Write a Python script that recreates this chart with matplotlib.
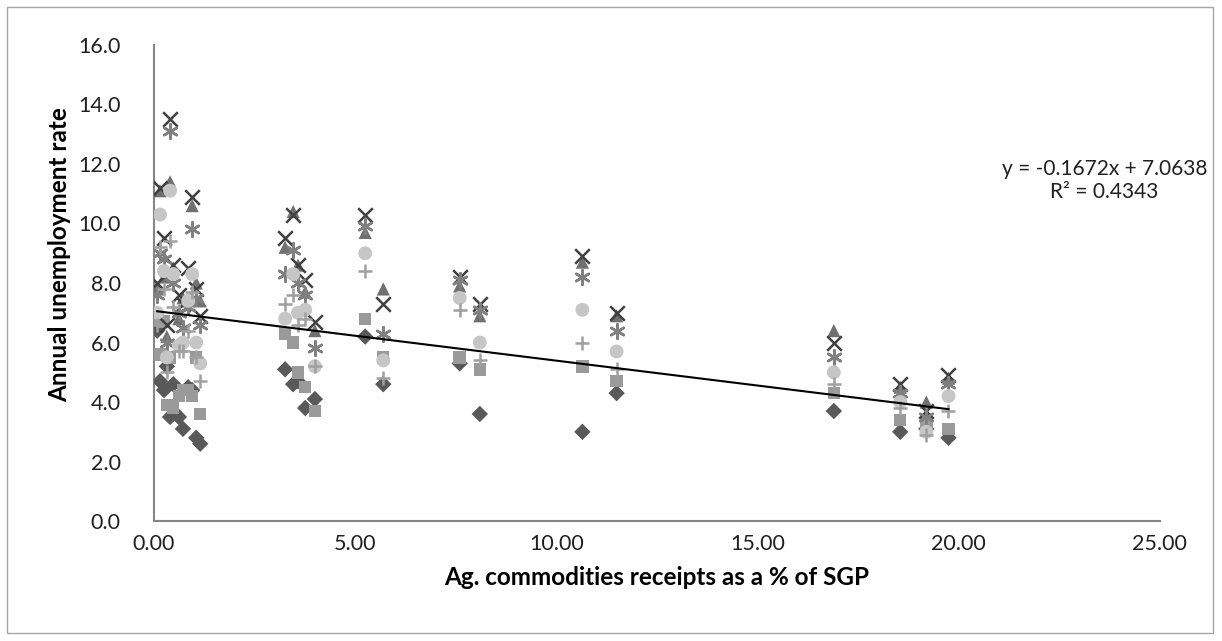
import numpy as np
import matplotlib.pyplot as plt
from matplotlib.patches import Rectangle

# Ag. commodities receipts as a % of SGP, one value per state
ag_share = [0.08, 0.15, 0.25, 0.32, 0.40, 0.48, 0.62, 0.72, 0.85, 0.95, 1.05, 1.15,
            3.26, 3.46, 3.58, 3.76, 4.00, 5.25, 5.70, 7.60, 8.10, 10.65, 11.50,
            16.90, 18.55, 19.20, 19.75]

# annual unemployment rate, one list per series (year)
s1 = [6.4, 4.7, 4.4, 5.2, 3.5, 4.6, 3.5, 3.1, 4.5, 4.4, 2.8, 2.6,
      5.1, 4.6, 4.7, 3.8, 4.1, 6.2, 4.6, 5.3, 3.6, 3.0, 4.3, 3.7, 3.0, 3.1, 2.8]
s2 = [6.8, 5.6, 6.7, 3.9, 5.5, 3.8, 4.2, 4.4, 4.4, 4.2, 5.5, 3.6,
      6.3, 6.0, 5.0, 4.5, 3.7, 6.8, 5.5, 5.5, 5.1, 5.2, 4.7, 4.3, 3.4, 3.3, 3.1]
s3 = [7.8, 11.1, 8.2, 6.2, 11.4, 8.5, 6.8, 7.5, 7.4, 10.6, 8.0, 7.4,
      9.2, 10.4, 8.6, 7.7, 6.4, 9.7, 7.8, 7.9, 6.9, 8.7, 6.9, 6.4, 4.5, 4.0, 4.8]
s4 = [8.0, 11.2, 9.5, 6.6, 13.5, 8.6, 7.6, 7.3, 8.5, 10.9, 7.8, 6.9,
      9.5, 10.3, 8.6, 8.1, 6.7, 10.3, 7.3, 8.2, 7.3, 8.9, 7.0, 6.0, 4.6, 3.7, 4.9]
s5 = [7.6, 9.0, 8.8, 6.0, 13.1, 8.0, 7.0, 6.5, 7.2, 9.8, 7.5, 6.6,
      8.3, 9.1, 8.0, 7.6, 5.8, 9.9, 6.3, 8.1, 7.1, 8.2, 6.4, 5.5, 4.3, 3.5, 4.6]
s6 = [7.0, 10.3, 8.4, 5.5, 11.1, 8.3, 5.9, 6.0, 7.4, 8.3, 6.0, 5.3,
      6.8, 8.3, 7.0, 7.1, 5.2, 9.0, 5.4, 7.5, 6.0, 7.1, 5.7, 5.0, 4.0, 3.0, 4.2]
s7 = [6.6, 9.2, 7.8, 5.0, 9.4, 7.2, 5.7, 5.7, 6.4, 7.7, 5.5, 4.7,
      7.3, 7.6, 6.6, 6.8, 5.2, 8.4, 4.8, 7.1, 5.4, 6.0, 5.1, 4.6, 3.8, 2.9, 3.7]

# linear trendline reported on the chart
trend_slope = -0.1672
trend_intercept = 7.0638
r_squared = 0.4343

series = [
    (s1, 'D', '#595959', 70),
    (s2, 's', '#9a9a9a', 80),
    (s3, '^', '#707070', 90),
    (s4, 'x', '#404040', 110),
    (s5, (6, 2, 0), '#808080', 110),
    (s6, 'o', '#c6c6c6', 100),
    (s7, '+', '#a0a0a0', 110),
]

plt.rcParams['font.family'] = ['Lato', 'DejaVu Sans']

fig = plt.figure(figsize=(12.22, 6.41), dpi=100)
ax = fig.add_axes([0.126, 0.187, 0.823, 0.743])

for vals, mk, col, sz in series:
    if mk in ('x', '+') or isinstance(mk, tuple):
        ax.scatter(ag_share, vals, marker=mk, s=sz, color=col, linewidths=1.8, zorder=3)
    else:
        ax.scatter(ag_share, vals, marker=mk, s=sz, color=col, edgecolors='none', zorder=3)

xs = np.array([min(ag_share), max(ag_share)])
ax.plot(xs, trend_slope * xs + trend_intercept, color='black', lw=1.5, zorder=4)

ax.text(0.945, 0.715, f"y = {trend_slope}x + {trend_intercept}\nR\u00b2 = {r_squared}",
        transform=ax.transAxes, ha='center', va='center', fontsize=15,
        linespacing=1.2, color='#202020')

ax.set_xlim(0, 25)
ax.set_ylim(0, 16)
ax.set_xticks(np.arange(0, 26, 5))
ax.set_xticklabels([f"{v:.2f}" for v in np.arange(0, 26, 5)])
ax.set_yticks(np.arange(0, 17, 2))
ax.set_yticklabels([f"{v:.1f}" for v in np.arange(0, 17, 2)])
ax.tick_params(length=0, labelsize=15.5, colors='#202020')
ax.tick_params(axis='y', pad=24)
ax.tick_params(axis='x', pad=9)

for sp in ['top', 'right']:
    ax.spines[sp].set_visible(False)
for sp in ['left', 'bottom']:
    ax.spines[sp].set_color('#868686')
    ax.spines[sp].set_linewidth(1.5)

ax.set_xlabel('Ag. commodities receipts as a % of SGP', fontsize=17.5,
              fontweight='bold', labelpad=9)
ax.set_ylabel('Annual unemployment rate', fontsize=17.5, fontweight='bold')
ax.yaxis.set_label_coords(-0.082, 0.56)

fig.patches.append(Rectangle((0.006, 0.012), 0.987, 0.977, transform=fig.transFigure,
                             fill=False, edgecolor='#a6a6a6', lw=1))

fig.savefig('out.png', dpi=100)
